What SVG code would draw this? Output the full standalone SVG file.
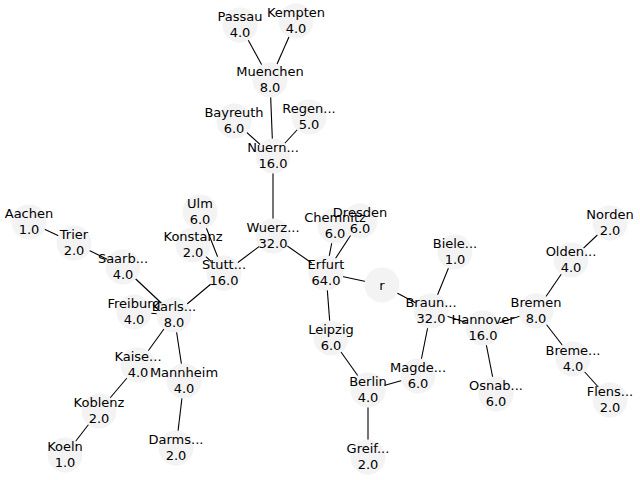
<svg xmlns="http://www.w3.org/2000/svg" width="640" height="480" viewBox="0 0 640 480">
  <style>
    .edge { stroke: #000; stroke-width: 1.1; fill: none; }
    .disc { fill: #f3f3f3; stroke: none; }
    .label { font-family: "DejaVu Sans", sans-serif; font-size: 13px; fill: #000; text-anchor: middle; }
  </style>
  <rect width="640" height="480" fill="#fff"/>
  <g id="edges">
    <line class="edge" x1="382" y1="285" x2="326" y2="273"/>
    <line class="edge" x1="382" y1="285" x2="431" y2="311"/>
    <line class="edge" x1="326" y1="273" x2="273" y2="236"/>
    <line class="edge" x1="326" y1="273" x2="335" y2="226"/>
    <line class="edge" x1="326" y1="273" x2="360" y2="221"/>
    <line class="edge" x1="326" y1="273" x2="331" y2="338"/>
    <line class="edge" x1="273" y1="236" x2="273" y2="156"/>
    <line class="edge" x1="273" y1="236" x2="224" y2="273"/>
    <line class="edge" x1="273" y1="156" x2="270" y2="80"/>
    <line class="edge" x1="273" y1="156" x2="234" y2="121"/>
    <line class="edge" x1="273" y1="156" x2="309" y2="117"/>
    <line class="edge" x1="270" y1="80" x2="240" y2="25"/>
    <line class="edge" x1="270" y1="80" x2="296" y2="21"/>
    <line class="edge" x1="224" y1="273" x2="200" y2="212"/>
    <line class="edge" x1="224" y1="273" x2="193" y2="245"/>
    <line class="edge" x1="224" y1="273" x2="174" y2="315"/>
    <line class="edge" x1="174" y1="315" x2="123" y2="267"/>
    <line class="edge" x1="174" y1="315" x2="134" y2="312"/>
    <line class="edge" x1="174" y1="315" x2="138" y2="365"/>
    <line class="edge" x1="174" y1="315" x2="184" y2="381"/>
    <line class="edge" x1="123" y1="267" x2="74" y2="243"/>
    <line class="edge" x1="74" y1="243" x2="29" y2="222"/>
    <line class="edge" x1="138" y1="365" x2="99" y2="411"/>
    <line class="edge" x1="99" y1="411" x2="65" y2="455"/>
    <line class="edge" x1="184" y1="381" x2="176" y2="448"/>
    <line class="edge" x1="331" y1="338" x2="368" y2="390"/>
    <line class="edge" x1="368" y1="390" x2="418" y2="376"/>
    <line class="edge" x1="368" y1="390" x2="368" y2="457"/>
    <line class="edge" x1="418" y1="376" x2="431" y2="311"/>
    <line class="edge" x1="431" y1="311" x2="455" y2="252"/>
    <line class="edge" x1="431" y1="311" x2="483" y2="328"/>
    <line class="edge" x1="483" y1="328" x2="536" y2="311"/>
    <line class="edge" x1="483" y1="328" x2="496" y2="394"/>
    <line class="edge" x1="536" y1="311" x2="571" y2="260"/>
    <line class="edge" x1="571" y1="260" x2="610" y2="223"/>
    <line class="edge" x1="536" y1="311" x2="573" y2="359"/>
    <line class="edge" x1="573" y1="359" x2="610" y2="400"/>
  </g>
  <!-- discs sit in one layer under all labels, so neighbouring labels that overlap stay readable -->
  <g id="node-discs">
    <circle id="disc-passau" class="disc" cx="240" cy="25" r="17.5"/>
    <circle id="disc-kempten" class="disc" cx="296" cy="21" r="17.5"/>
    <circle id="disc-muenchen" class="disc" cx="270" cy="80" r="17.5"/>
    <circle id="disc-bayreuth" class="disc" cx="234" cy="121" r="17.5"/>
    <circle id="disc-regen" class="disc" cx="309" cy="117" r="17.5"/>
    <circle id="disc-nuern" class="disc" cx="273" cy="156" r="17.5"/>
    <circle id="disc-wuerz" class="disc" cx="273" cy="236" r="17.5"/>
    <circle id="disc-ulm" class="disc" cx="200" cy="212" r="17.5"/>
    <circle id="disc-konstanz" class="disc" cx="193" cy="245" r="17.5"/>
    <circle id="disc-stutt" class="disc" cx="224" cy="273" r="17.5"/>
    <circle id="disc-aachen" class="disc" cx="29" cy="222" r="17.5"/>
    <circle id="disc-trier" class="disc" cx="74" cy="243" r="17.5"/>
    <circle id="disc-saarb" class="disc" cx="123" cy="267" r="17.5"/>
    <circle id="disc-freiburg" class="disc" cx="134" cy="312" r="17.5"/>
    <circle id="disc-karls" class="disc" cx="174" cy="315" r="17.5"/>
    <circle id="disc-kaise" class="disc" cx="138" cy="365" r="17.5"/>
    <circle id="disc-mannheim" class="disc" cx="184" cy="381" r="17.5"/>
    <circle id="disc-koblenz" class="disc" cx="99" cy="411" r="17.5"/>
    <circle id="disc-koeln" class="disc" cx="65" cy="455" r="17.5"/>
    <circle id="disc-darms" class="disc" cx="176" cy="448" r="17.5"/>
    <circle id="disc-chemnitz" class="disc" cx="335" cy="226" r="17.5"/>
    <circle id="disc-dresden" class="disc" cx="360" cy="221" r="17.5"/>
    <circle id="disc-erfurt" class="disc" cx="326" cy="273" r="17.5"/>
    <circle id="disc-r" class="disc" cx="382" cy="285" r="17.5"/>
    <circle id="disc-biele" class="disc" cx="455" cy="252" r="17.5"/>
    <circle id="disc-braun" class="disc" cx="431" cy="311" r="17.5"/>
    <circle id="disc-hannover" class="disc" cx="483" cy="328" r="17.5"/>
    <circle id="disc-bremen" class="disc" cx="536" cy="311" r="17.5"/>
    <circle id="disc-olden" class="disc" cx="571" cy="260" r="17.5"/>
    <circle id="disc-norden" class="disc" cx="610" cy="223" r="17.5"/>
    <circle id="disc-breme" class="disc" cx="573" cy="359" r="17.5"/>
    <circle id="disc-flens" class="disc" cx="610" cy="400" r="17.5"/>
    <circle id="disc-osnab" class="disc" cx="496" cy="394" r="17.5"/>
    <circle id="disc-leipzig" class="disc" cx="331" cy="338" r="17.5"/>
    <circle id="disc-magde" class="disc" cx="418" cy="376" r="17.5"/>
    <circle id="disc-berlin" class="disc" cx="368" cy="390" r="17.5"/>
    <circle id="disc-greif" class="disc" cx="368" cy="457" r="17.5"/>
  </g>
  <g id="nodes" class="label">
    <g id="n-passau"><text x="240" y="21">Passau<tspan x="240" dy="16">4.0</tspan></text></g>
    <g id="n-kempten"><text x="296" y="17">Kempten<tspan x="296" dy="16">4.0</tspan></text></g>
    <g id="n-muenchen"><text x="270" y="76">Muenchen<tspan x="270" dy="16">8.0</tspan></text></g>
    <g id="n-bayreuth"><text x="234" y="117">Bayreuth<tspan x="234" dy="16">6.0</tspan></text></g>
    <g id="n-regen"><text x="309" y="113">Regen...<tspan x="309" dy="16">5.0</tspan></text></g>
    <g id="n-nuern"><text x="273" y="152">Nuern...<tspan x="273" dy="16">16.0</tspan></text></g>
    <g id="n-wuerz"><text x="273" y="232">Wuerz...<tspan x="273" dy="16">32.0</tspan></text></g>
    <g id="n-ulm"><text x="200" y="208">Ulm<tspan x="200" dy="16">6.0</tspan></text></g>
    <g id="n-konstanz"><text x="193" y="241">Konstanz<tspan x="193" dy="16">2.0</tspan></text></g>
    <g id="n-stutt"><text x="224" y="269">Stutt...<tspan x="224" dy="16">16.0</tspan></text></g>
    <g id="n-aachen"><text x="29" y="218">Aachen<tspan x="29" dy="16">1.0</tspan></text></g>
    <g id="n-trier"><text x="74" y="239">Trier<tspan x="74" dy="16">2.0</tspan></text></g>
    <g id="n-saarb"><text x="123" y="263">Saarb...<tspan x="123" dy="16">4.0</tspan></text></g>
    <g id="n-freiburg"><text x="134" y="308">Freiburg<tspan x="134" dy="16">4.0</tspan></text></g>
    <g id="n-karls"><text x="174" y="311">Karls...<tspan x="174" dy="16">8.0</tspan></text></g>
    <g id="n-kaise"><text x="138" y="361">Kaise...<tspan x="138" dy="16">4.0</tspan></text></g>
    <g id="n-mannheim"><text x="184" y="377">Mannheim<tspan x="184" dy="16">4.0</tspan></text></g>
    <g id="n-koblenz"><text x="99" y="407">Koblenz<tspan x="99" dy="16">2.0</tspan></text></g>
    <g id="n-koeln"><text x="65" y="451">Koeln<tspan x="65" dy="16">1.0</tspan></text></g>
    <g id="n-darms"><text x="176" y="444">Darms...<tspan x="176" dy="16">2.0</tspan></text></g>
    <g id="n-chemnitz"><text x="335" y="222">Chemnitz<tspan x="335" dy="16">6.0</tspan></text></g>
    <g id="n-dresden"><text x="360" y="217">Dresden<tspan x="360" dy="16">6.0</tspan></text></g>
    <g id="n-erfurt"><text x="326" y="269">Erfurt<tspan x="326" dy="16">64.0</tspan></text></g>
    <g id="n-r"><text x="382" y="290">r</text></g>
    <g id="n-biele"><text x="455" y="248">Biele...<tspan x="455" dy="16">1.0</tspan></text></g>
    <g id="n-braun"><text x="431" y="307">Braun...<tspan x="431" dy="16">32.0</tspan></text></g>
    <g id="n-hannover"><text x="483" y="324">Hannover<tspan x="483" dy="16">16.0</tspan></text></g>
    <g id="n-bremen"><text x="536" y="307">Bremen<tspan x="536" dy="16">8.0</tspan></text></g>
    <g id="n-olden"><text x="571" y="256">Olden...<tspan x="571" dy="16">4.0</tspan></text></g>
    <g id="n-norden"><text x="610" y="219">Norden<tspan x="610" dy="16">2.0</tspan></text></g>
    <g id="n-breme"><text x="573" y="355">Breme...<tspan x="573" dy="16">4.0</tspan></text></g>
    <g id="n-flens"><text x="610" y="396">Flens...<tspan x="610" dy="16">2.0</tspan></text></g>
    <g id="n-osnab"><text x="496" y="390">Osnab...<tspan x="496" dy="16">6.0</tspan></text></g>
    <g id="n-leipzig"><text x="331" y="334">Leipzig<tspan x="331" dy="16">6.0</tspan></text></g>
    <g id="n-magde"><text x="418" y="372">Magde...<tspan x="418" dy="16">6.0</tspan></text></g>
    <g id="n-berlin"><text x="368" y="386">Berlin<tspan x="368" dy="16">4.0</tspan></text></g>
    <g id="n-greif"><text x="368" y="453">Greif...<tspan x="368" dy="16">2.0</tspan></text></g>
  </g>
</svg>
